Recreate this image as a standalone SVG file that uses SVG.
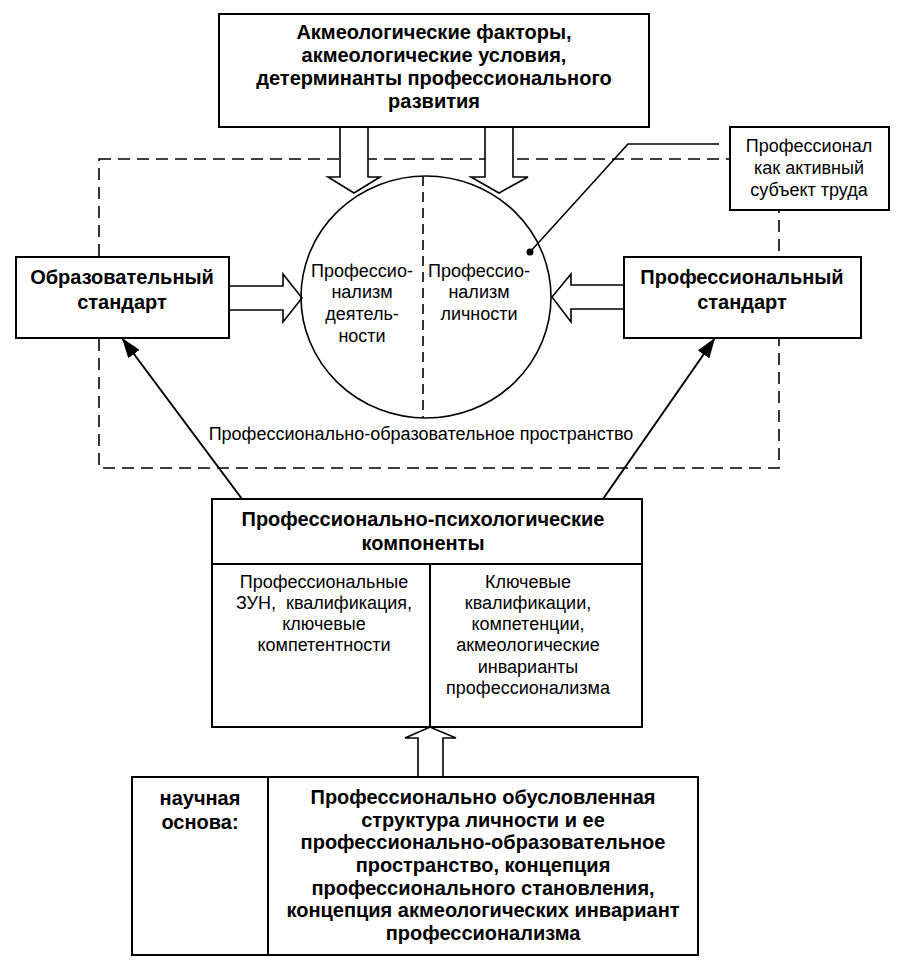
<svg xmlns="http://www.w3.org/2000/svg" width="900" height="978" viewBox="0 0 900 978">
<defs>
<style>
.box{fill:#fff;stroke:#000;stroke-width:2}
.hollow{fill:#fff;stroke:#000;stroke-width:1.6;stroke-linejoin:miter}
.dash{fill:none;stroke:#000;stroke-width:1.6;stroke-dasharray:12 7}
.line{fill:none;stroke:#000;stroke-width:2}
.b{font-family:"Liberation Sans",Arial,sans-serif;font-weight:bold;font-size:20px;text-anchor:middle;fill:#000}
.r{font-family:"Liberation Sans",Arial,sans-serif;font-size:18px;text-anchor:middle;fill:#000}
</style>
<marker id="ah" viewBox="0 0 20 14" refX="20" refY="7" markerWidth="20" markerHeight="14" markerUnits="userSpaceOnUse" orient="auto">
<path d="M0,0 L20,7 L0,14 Z" fill="#000"/>
</marker>
</defs>
<rect width="900" height="978" fill="#fff"/>

<g id="space">
<rect class="dash" x="99" y="159" width="680" height="309"/>
<text class="r" x="421" y="440">Профессионально-образовательное пространство</text>
</g>

<g id="connectors">
<polygon class="hollow" points="340,127 368,127 368,177 380,177 354,193 328,177 340,177"/>
<polygon class="hollow" points="485,127 513,127 513,177 528,177 499,193 471,177 485,177"/>
<polygon class="hollow" points="229,286 283,286 283,274 302,298 283,322 283,310 229,310"/>
<polygon class="hollow" points="624,285 571,285 571,274 552,297 571,322 571,309 624,309"/>
<polygon class="hollow" points="418,777 418,738 405,738 430,727 456,738 443,738 443,777"/>
<line class="line" x1="242" y1="499" x2="122" y2="338" marker-end="url(#ah)"/>
<line class="line" x1="603" y1="499" x2="715" y2="338" marker-end="url(#ah)"/>
<polyline fill="none" stroke="#000" stroke-width="1.6" points="719,144 628,144 530,252"/>
<circle cx="530" cy="252" r="3.5" fill="#000"/>
</g>

<g id="top">
<rect class="box" x="219" y="14" width="430" height="113"/>
<text class="b" x="434" y="39">Акмеологические факторы,</text>
<text class="b" x="434" y="62">акмеологические условия,</text>
<text class="b" x="434" y="85">детерминанты профессионального</text>
<text class="b" x="434" y="108">развития</text>
</g>

<g id="circle">
<ellipse cx="426" cy="297" rx="125" ry="121" fill="none" stroke="#000" stroke-width="1.6"/>
<line x1="423" y1="176" x2="423" y2="418" stroke="#000" stroke-width="1.6" stroke-dasharray="10 6"/>
<text class="r" x="362" y="277">Профессио-</text>
<text class="r" x="362" y="298">нализм</text>
<text class="r" x="362" y="320">деятель-</text>
<text class="r" x="362" y="342">ности</text>
<text class="r" x="479" y="277">Профессио-</text>
<text class="r" x="479" y="298">нализм</text>
<text class="r" x="479" y="320">личности</text>
</g>

<g id="subject">
<rect class="box" x="730" y="127" width="159" height="83"/>
<text class="r" x="809" y="152">Профессионал</text>
<text class="r" x="809" y="174">как активный</text>
<text class="r" x="809" y="196">субъект труда</text>
</g>

<g id="edu">
<rect class="box" x="16" y="257" width="213" height="81"/>
<text class="b" x="122" y="284">Образовательный</text>
<text class="b" x="122" y="309">стандарт</text>
</g>

<g id="prof">
<rect class="box" x="624" y="257" width="237" height="81"/>
<text class="b" x="742" y="284">Профессиональный</text>
<text class="b" x="742" y="309">стандарт</text>
</g>

<g id="components">
<rect class="box" x="212" y="499" width="430" height="228"/>
<line class="line" x1="212" y1="564" x2="642" y2="564"/>
<line class="line" x1="430" y1="564" x2="430" y2="727"/>
<text class="b" x="423" y="526">Профессионально-психологические</text>
<text class="b" x="423" y="550">компоненты</text>
<text class="r" x="324" y="588">Профессиональные</text>
<text class="r" x="324" y="609" xml:space="preserve">ЗУН,  квалификация,</text>
<text class="r" x="324" y="630">ключевые</text>
<text class="r" x="324" y="651">компетентности</text>
<text class="r" x="528" y="588">Ключевые</text>
<text class="r" x="528" y="609">квалификации,</text>
<text class="r" x="528" y="630">компетенции,</text>
<text class="r" x="528" y="651">акмеологические</text>
<text class="r" x="528" y="673">инварианты</text>
<text class="r" x="528" y="694">профессионализма</text>
</g>

<g id="basis">
<rect class="box" x="132" y="777" width="566" height="178"/>
<line class="line" x1="268" y1="777" x2="268" y2="955"/>
<text class="b" x="200" y="805">научная</text>
<text class="b" x="200" y="829">основа:</text>
<text class="b" x="483" y="804">Профессионально обусловленная</text>
<text class="b" x="483" y="827">структура личности и ее</text>
<text class="b" x="483" y="849">профессионально-образовательное</text>
<text class="b" x="483" y="872">пространство, концепция</text>
<text class="b" x="483" y="895">профессионального становления,</text>
<text class="b" x="483" y="917">концепция акмеологических инвариант</text>
<text class="b" x="483" y="940">профессионализма</text>
</g>
</svg>
